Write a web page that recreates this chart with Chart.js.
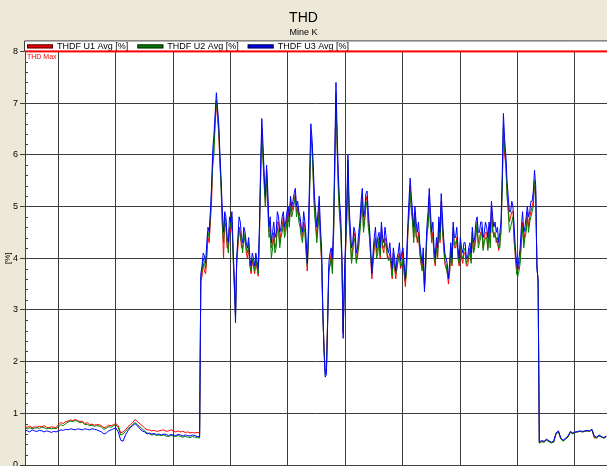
<!DOCTYPE html>
<html>
<head>
<meta charset="utf-8">
<title>THD – Mine K</title>
<script src="https://cdn.jsdelivr.net/npm/chart.js@4.4.0/dist/chart.umd.min.js"></script>
<style>
  html, body { margin: 0; padding: 0; background: #ECE9D8; overflow: hidden; }
  #wrap { width: 607px; height: 466px; overflow: hidden; position: relative; }
  canvas { display: block; }
</style>
</head>
<body>
<div id="wrap"><canvas id="thd" width="607" height="480"></canvas></div>
<script>
const FONT = "'Liberation Sans', Arial, sans-serif";

// Sample times in hours since the start of the recording:
// hourly while the plant is idle, half-hourly while it is running.
const hours = [];
for (let h = 0; h <= 73; h++) hours.push(h);
for (let h = 73.5; h <= 214.5; h += 0.5) hours.push(h);
for (let h = 215; h <= 243; h++) hours.push(h);

// Midnight positions (hours since start) used for the vertical day grid
const dayStarts = [13.9, 37.9, 61.9, 85.9, 109.9, 133.9, 157.9, 181.9, 205.9, 229.9];
const timeSpan = 243.3;

// Limit line
const thdMax = 8;

const seriesNames = ['THDF U1 Avg [%]', 'THDF U2 Avg [%]', 'THDF U3 Avg [%]'];
const seriesColors = ['#FF0000', '#008000', '#0000FF'];

// THDF U1 average [%]
const thdfU1 = [
  // idle, hourly 0–73
  0.74,0.73,0.75,0.72,0.74,0.73,0.75,0.74,0.76,0.73,
  0.72,0.74,0.73,0.72,0.78,0.82,0.80,0.84,0.85,0.87,
  0.86,0.88,0.86,0.84,0.85,0.80,0.82,0.78,0.79,0.77,
  0.78,0.78,0.76,0.72,0.74,0.77,0.76,0.78,0.80,0.76,
  0.62,0.64,0.68,0.74,0.78,0.82,0.88,0.84,0.80,0.76,
  0.72,0.68,0.68,0.66,0.67,0.65,0.66,0.67,0.68,0.65,
  0.66,0.68,0.66,0.64,0.66,0.64,0.65,0.63,0.64,0.62,
  0.63,0.62,0.63,0.62,
  // running, half-hourly 73.5–214.5
  3.55,
  3.65,3.9, 3.75,3.7, 4.0,4.4, 4.3,4.7, 5.1,5.9,
  6.2,6.6, 7.0,6.7, 6.4,5.8, 5.4,4.7, 4.0,4.7,
  4.6,4.2, 4.2,4.6, 4.5,4.7, 4.1,3.5, 2.9,3.9,
  4.2,4.6, 4.5,4.2, 4.2,4.4, 4.4,4.1, 4.0,4.2,
  3.9,3.7, 3.95,3.85, 3.7,3.95, 3.8,3.65, 4.4,5.6,
  6.5,6.0, 5.5,5.0, 5.7,5.1, 4.5,4.6, 4.2,4.3,
  4.5,4.2, 4.3,4.7, 4.7,4.3, 4.5,4.6, 4.8,4.5,
  4.6,4.8, 4.9,4.7, 5.1,4.9, 5.0,5.1, 5.25,4.9,
  5.0,4.8, 4.7,4.5, 4.4,4.7, 4.6,4.2, 3.75,4.4,
  5.4,6.4, 6.1,5.6, 5.0,4.7, 4.4,4.7, 5.0,4.4,
  3.9,2.9, 2.3,1.8, 1.85,2.8, 3.7,3.9, 4.1,3.8,
  4.5,5.8, 7.1,6.2, 5.4,4.9, 4.6,3.9, 2.55,3.5,
  4.1,4.8, 5.8,4.8, 4.4,4.0, 4.2,4.5, 4.4,3.95,
  4.0,4.3, 4.6,4.9, 5.2,4.6, 4.8,5.1, 5.2,4.7,
  4.5,4.0, 3.6,3.9, 4.2,4.4, 4.1,4.2, 4.3,4.0,
  4.6,4.2, 4.1,4.4, 4.3,4.0, 4.0,4.1, 3.85,3.6,
  4.1,3.8, 3.6,3.85, 4.0,4.1, 3.8,3.9, 4.1,3.7,
  3.45,3.8, 4.4,4.9, 5.4,5.0, 4.8,4.4, 4.9,4.5,
  4.3,4.5, 4.1,3.9, 3.8,4.0, 3.4,3.85, 4.4,4.7,
  5.2,4.7, 4.3,4.5, 4.0,3.85, 4.3,4.0, 4.6,4.3,
  5.1,4.6, 4.2,3.9, 3.8,3.75, 3.5,3.7, 4.1,3.85,
  4.5,4.2, 4.2,4.4, 4.0,3.85, 4.2,4.0, 3.9,4.1,
  4.1,3.85, 3.85,4.0, 4.15,3.95, 4.4,4.15, 4.3,4.5,
  4.6,4.3, 4.4,4.5, 4.5,4.2, 4.4,4.5, 4.5,4.2,
  4.6,4.3, 5.0,4.6, 4.4,4.5, 4.3,4.4, 4.15,4.3,
  4.5,5.4, 6.5,6.0, 5.8,5.3, 5.0,4.7, 4.8,4.9,
  4.9,4.4, 4.0,3.8, 3.75,3.85, 4.0,4.4, 4.7,4.3,
  4.5,4.6, 4.9,4.6, 4.8,4.9, 5.0,5.1, 5.4,5.2,
  3.9,3.5,
  // idle, hourly 215–243
  0.43,0.46,0.45,0.49,0.46,0.43,0.45,0.61,0.65,0.51,
  0.47,0.51,0.55,0.64,0.61,0.63,0.64,0.65,0.64,0.65,
  0.66,0.65,0.68,0.52,0.53,0.57,0.54,0.52,0.55
];

// THDF U2 average [%]
const thdfU2 = [
  0.72,0.70,0.72,0.70,0.71,0.72,0.71,0.73,0.72,0.70,
  0.71,0.70,0.71,0.70,0.74,0.78,0.76,0.80,0.83,0.85,
  0.84,0.86,0.84,0.82,0.83,0.78,0.79,0.76,0.77,0.75,
  0.76,0.75,0.73,0.69,0.71,0.74,0.73,0.76,0.78,0.72,
  0.58,0.60,0.65,0.70,0.74,0.78,0.82,0.78,0.74,0.70,
  0.66,0.62,0.60,0.58,0.59,0.57,0.58,0.57,0.58,0.56,
  0.55,0.57,0.56,0.55,0.57,0.55,0.54,0.55,0.54,0.53,
  0.55,0.54,0.53,0.52,
  3.6,
  3.75,4.0, 3.9,3.8, 4.15,4.5, 4.4,4.8, 5.3,5.8,
  6.0,6.7, 7.05,6.8, 6.5,5.9, 5.3,4.6, 4.3,4.8,
  4.7,4.3, 4.1,4.6, 4.6,4.8, 4.0,3.45, 2.85,3.95,
  4.3,4.6, 4.4,4.3, 4.1,4.5, 4.3,4.2, 4.1,4.3,
  3.85,3.75, 4.0,3.9, 3.75,4.0, 3.85,3.7, 4.5,5.5,
  6.4,5.9, 5.4,5.0, 5.6,5.0, 4.4,4.5, 4.0,4.2,
  4.4,4.1, 4.2,4.6, 4.5,4.2, 4.4,4.5, 4.7,4.4,
  4.5,4.7, 4.8,4.6, 5.0,4.8, 4.9,5.05, 5.2,4.8,
  4.95,4.7, 4.6,4.4, 4.3,4.6, 4.5,4.1, 3.85,4.3,
  5.3,6.3, 6.2,5.5, 4.9,4.6, 4.3,4.6, 4.9,4.3,
  4.0,2.95, 2.25,1.75, 1.8,2.75, 3.8,3.85, 4.0,3.7,
  4.4,5.7, 7.2,6.1, 5.3,4.8, 4.5,3.85, 2.6,3.5,
  4.2,4.7, 5.9,4.7, 4.3,3.9, 4.1,4.4, 4.3,3.9,
  4.1,4.2, 4.5,4.8, 5.1,4.5, 4.7,5.0, 5.1,4.6,
  4.4,4.05, 3.75,3.95, 4.3,4.35, 4.0,4.1, 4.4,4.05,
  4.5,4.25, 4.2,4.3, 4.2,4.05, 3.95,4.0, 3.9,3.65,
  4.0,3.85, 3.7,3.8, 3.95,4.05, 3.85,3.85, 4.0,3.75,
  3.55,3.75, 4.5,4.8, 5.3,4.9, 4.7,4.3, 4.8,4.4,
  4.4,4.4, 4.2,3.95, 3.75,3.9, 3.45,3.8, 4.5,4.6,
  5.1,4.6, 4.4,4.4, 4.1,3.9, 4.2,4.05, 4.7,4.35,
  5.0,4.55, 4.3,3.95, 3.9,3.7, 3.65,3.75, 4.2,3.9,
  4.6,4.25, 4.3,4.35, 4.1,3.9, 4.3,4.05, 4.0,4.15,
  4.2,3.9, 3.95,4.05, 4.2,3.9, 4.5,4.1, 4.2,4.4,
  4.7,4.2, 4.3,4.4, 4.6,4.15, 4.3,4.4, 4.4,4.15,
  4.5,4.2, 4.9,4.5, 4.5,4.4, 4.4,4.3, 4.2,4.2,
  4.6,5.3, 6.6,6.1, 5.9,5.2, 4.9,4.5, 4.6,4.7,
  4.8,4.3, 4.1,3.7, 3.65,3.75, 3.9,4.3, 4.6,4.2,
  4.4,4.5, 4.8,4.5, 4.7,4.8, 4.9,5.0, 5.5,5.3,
  3.85,3.55,
  0.42,0.45,0.44,0.48,0.45,0.43,0.44,0.60,0.64,0.50,
  0.46,0.50,0.54,0.63,0.60,0.63,0.64,0.65,0.64,0.65,
  0.66,0.65,0.68,0.54,0.52,0.56,0.54,0.52,0.54
];

// THDF U3 average [%]
const thdfU3 = [
  0.68,0.66,0.64,0.68,0.66,0.65,0.67,0.66,0.64,0.66,
  0.65,0.63,0.65,0.64,0.66,0.68,0.67,0.69,0.68,0.70,
  0.69,0.68,0.70,0.69,0.68,0.70,0.69,0.68,0.70,0.69,
  0.68,0.66,0.64,0.60,0.62,0.66,0.68,0.70,0.72,0.64,
  0.48,0.46,0.58,0.66,0.72,0.76,0.80,0.76,0.70,0.66,
  0.64,0.60,0.62,0.60,0.61,0.59,0.60,0.58,0.60,0.59,
  0.57,0.59,0.58,0.57,0.59,0.58,0.56,0.58,0.57,0.56,
  0.58,0.57,0.55,0.55,
  3.7,
  3.85,4.1, 4.05,3.9, 4.3,4.6, 4.5,4.9, 5.4,6.1,
  6.4,6.8, 7.2,6.9, 6.6,6.0, 5.5,4.9, 4.5,4.9,
  4.8,4.4, 4.3,4.8, 4.7,4.9, 4.2,3.6, 2.75,4.0,
  4.4,4.8, 4.7,4.4, 4.3,4.6, 4.5,4.3, 4.2,4.4,
  4.0,3.85, 4.1,4.0, 3.85,4.1, 3.95,3.8, 4.6,5.8,
  6.7,6.2, 5.6,5.2, 5.8,5.3, 4.6,4.8, 4.3,4.5,
  4.7,4.4, 4.5,4.9, 4.8,4.5, 4.6,4.8, 4.9,4.6,
  4.7,4.9, 5.0,4.8, 5.2,5.0, 5.1,5.25, 5.35,5.0,
  5.1,4.9, 4.8,4.6, 4.5,4.9, 4.7,4.4, 3.9,4.6,
  5.6,6.6, 6.3,5.8, 5.2,4.9, 4.6,4.9, 5.2,4.6,
  4.2,3.0, 2.2,1.7, 1.75,2.7, 3.9,4.1, 4.2,4.0,
  4.7,6.0, 7.4,6.4, 5.6,5.1, 4.8,4.0, 2.45,3.6,
  4.3,5.0, 6.0,5.0, 4.6,4.2, 4.3,4.6, 4.5,4.1,
  4.2,4.5, 4.7,5.1, 5.35,4.8, 4.9,5.25, 5.3,4.9,
  4.6,4.2, 3.7,4.1, 4.4,4.6, 4.2,4.4, 4.5,4.2,
  4.7,4.4, 4.3,4.6, 4.4,4.2, 4.1,4.3, 4.0,3.8,
  4.2,4.0, 3.75,4.0, 4.1,4.3, 3.95,4.1, 4.2,3.9,
  3.6,4.0, 4.6,5.1, 5.55,5.2, 4.9,4.6, 5.0,4.7,
  4.5,4.7, 4.3,4.1, 3.9,4.2, 3.35,4.0, 4.6,4.9,
  5.35,4.9, 4.5,4.7, 4.2,4.0, 4.4,4.2, 4.8,4.5,
  5.25,4.8, 4.4,4.1, 4.0,3.9, 3.6,3.9, 4.3,4.0,
  4.7,4.4, 4.4,4.6, 4.2,4.0, 4.4,4.2, 4.1,4.3,
  4.3,4.0, 4.0,4.2, 4.3,4.1, 4.6,4.3, 4.4,4.7,
  4.8,4.5, 4.5,4.7, 4.7,4.4, 4.5,4.7, 4.6,4.4,
  4.7,4.5, 5.1,4.8, 4.6,4.7, 4.5,4.6, 4.3,4.5,
  4.7,5.6, 6.8,6.3, 6.0,5.5, 5.2,4.9, 4.9,5.1,
  5.0,4.6, 4.2,3.9, 3.8,4.0, 4.2,4.6, 4.9,4.5,
  4.6,4.8, 5.0,4.8, 4.9,5.1, 5.1,5.3, 5.7,5.4,
  3.8,3.6,
  0.45,0.47,0.46,0.50,0.47,0.44,0.46,0.62,0.66,0.52,
  0.48,0.52,0.56,0.65,0.62,0.64,0.65,0.66,0.65,0.66,
  0.67,0.66,0.69,0.56,0.54,0.58,0.55,0.53,0.56
];

const seriesData = [thdfU1, thdfU2, thdfU3];

// Beige window background with a white plotting area
const panelBackground = {
  id: 'panelBackground',
  beforeDraw(chart) {
    const { ctx, chartArea: a } = chart;
    ctx.save();
    ctx.fillStyle = '#ECE9D8';
    ctx.fillRect(0, 0, chart.width, chart.height);
    ctx.fillStyle = '#FFFFFF';
    ctx.fillRect(a.left, a.top, a.right - a.left, a.bottom - a.top);
    ctx.restore();
  }
};

// Legend strip above the plot, the THD limit line and the inner minor ticks
const overlays = {
  id: 'overlays',
  afterDraw(chart) {
    const { ctx, chartArea: a } = chart;
    const yScale = chart.scales.y;
    ctx.save();

    // legend strip
    const boxTop = a.top - 11;
    ctx.fillStyle = '#FFFFFF';
    ctx.fillRect(a.left - 1, boxTop, chart.width, a.top - boxTop);
    ctx.strokeStyle = '#404040';
    ctx.lineWidth = 1;
    ctx.beginPath();
    ctx.moveTo(a.left - 0.5, a.top);
    ctx.lineTo(a.left - 0.5, boxTop + 0.5);
    ctx.lineTo(chart.width + 1, boxTop + 0.5);
    ctx.stroke();

    ctx.font = '9px ' + FONT;
    ctx.textBaseline = 'middle';
    ctx.textAlign = 'left';
    const midY = boxTop + 6;
    let x = a.left + 2;
    chart.data.datasets.forEach(ds => {
      ctx.fillStyle = ds.borderColor;
      ctx.fillRect(x, midY - 2, 26, 4);
      ctx.strokeStyle = 'rgba(0,0,0,0.75)';
      ctx.strokeRect(x + 0.5, midY - 1.5, 25, 3);
      ctx.fillStyle = '#000000';
      ctx.fillText(ds.label, x + 30, midY);
      x += 30 + ctx.measureText(ds.label).width + 9;
    });

    // THD limit
    const yMax = yScale.getPixelForValue(thdMax);
    ctx.fillStyle = '#FF0000';
    ctx.fillRect(a.left, yMax - 1, a.right - a.left, 2);
    ctx.font = '7px ' + FONT;
    ctx.textBaseline = 'top';
    ctx.fillText('THD Max', a.left + 2, yMax + 2);

    // minor ticks on the inside of the value axis
    ctx.strokeStyle = '#404040';
    ctx.beginPath();
    for (let k = 1; k < 40; k++) {
      if (k % 5 === 0) continue;
      const y = Math.round(yScale.getPixelForValue(k / 5)) + 0.5;
      ctx.moveTo(a.left, y);
      ctx.lineTo(a.left + 3, y);
    }
    ctx.stroke();
    ctx.restore();
  }
};

new Chart(document.getElementById('thd'), {
  type: 'line',
  data: {
    labels: hours,
    datasets: seriesData.map((values, i) => ({
      label: seriesNames[i],
      data: values,
      borderColor: seriesColors[i],
      backgroundColor: seriesColors[i],
      borderWidth: 1,
      pointRadius: 0,
      tension: 0,
      fill: false,
      order: 3 - i
    }))
  },
  options: {
    responsive: false,
    animation: false,
    events: [],
    layout: { padding: 0 },
    plugins: {
      legend: { display: false },
      tooltip: { enabled: false },
      title: {
        display: true,
        text: 'THD',
        color: '#000000',
        font: { family: FONT, size: 14, weight: 'normal' },
        padding: { top: 9.6, bottom: 0 }
      },
      subtitle: {
        display: true,
        text: 'Mine K',
        color: '#000000',
        font: { family: FONT, size: 9, weight: 'normal' },
        padding: { top: 0.7, bottom: 13.5 }
      }
    },
    scales: {
      x: {
        type: 'linear',
        min: 0,
        max: timeSpan,
        afterBuildTicks(scale) { scale.ticks = dayStarts.map(v => ({ value: v })); },
        afterFit(scale) { scale.height = 15; },
        ticks: { display: false },
        grid: { color: '#3c3c3c', drawTicks: false },
        border: { display: true, color: '#404040' }
      },
      y: {
        min: 0,
        max: 8,
        afterFit(scale) { scale.width = 25; },
        ticks: { stepSize: 1, color: '#000000', font: { family: FONT, size: 9 }, padding: 2 },
        grid: { color: '#3c3c3c', tickLength: 5 },
        border: { display: true, color: '#404040' },
        title: {
          display: true,
          text: '[%]',
          color: '#000000',
          font: { family: FONT, size: 8 },
          padding: { top: 3, bottom: 0 }
        }
      }
    }
  },
  plugins: [panelBackground, overlays]
});
</script>
</body>
</html>
